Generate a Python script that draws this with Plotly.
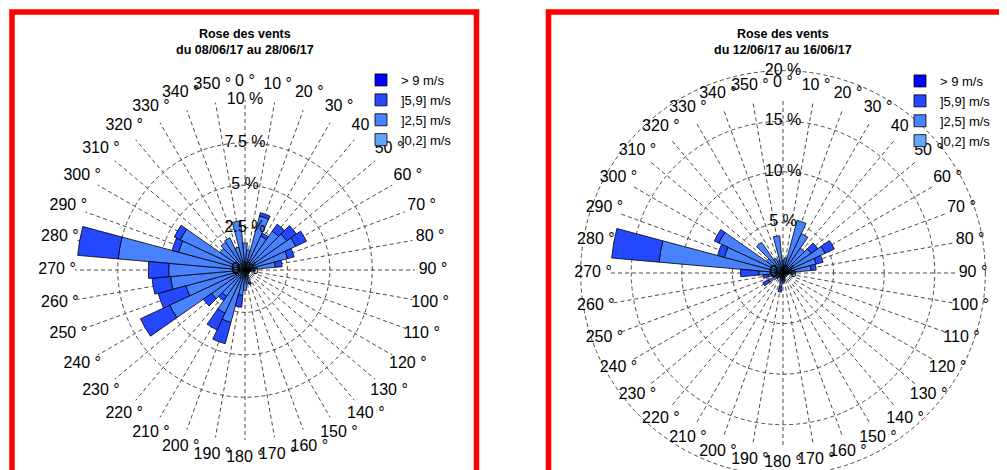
import plotly.graph_objects as go

# ---------------- data ----------------
directions = list(range(0, 360, 10))
dir_labels = [f"{d} °" for d in directions]
classes = ["]0,2] m/s", "]2,5] m/s", "]5,9] m/s", "> 9 m/s"]
class_colors = ["#64A6FF", "#4882FF", "#2448FF", "#0000FF"]

# chart 1 : 08/06/17 - 28/06/17  (% of time, per 10° sector)
left_c1 = [0.5, 0.4, 0.6, 0.5, 0.5, 0.5, 0.5, 0.5, 0.4, 0.3, 0.2, 0.2,
           0.2, 0.2, 0.2, 0.2, 0.4, 0.3, 0.4, 0.4, 0.5, 0.5, 0.4, 0.5,
           0.6, 0.6, 0.6, 0.6, 0.7, 0.5, 0.5, 0.4, 0.4, 0.4, 0.4, 0.5]
left_c2 = [1.1, 0.8, 2.7, 1.7, 2.3, 2.5, 2.8, 2.1, 1.4, 0.3, 0.2, 0.1,
           0.1, 0.1, 0.1, 0.2, 0.4, 0.5, 0.8, 1.1, 2.7, 2.3, 1.5, 1.9,
           4.3, 3.0, 3.8, 3.9, 6.8, 3.55, 3.7, 1.4, 1.6, 1.7, 1.0, 2.4]
left_c3 = [0, 0, 0.2, 0.2, 0.5, 0.7, 0.7, 0.4, 0.4, 0, 0, 0,
           0, 0, 0, 0, 0.1, 0, 0, 0.7, 1.3, 1.1, 0.3, 0.6,
           1.9, 1.7, 1.1, 1.2, 2.4, 0.4, 0.4, 0, 0, 0, 0, 0]
left_c4 = [0] * 36

# chart 2 : 12/06/17 - 16/06/17
right_c1 = [0.5, 0.5, 0.7, 0.6, 0.5, 0.5, 0.6, 0.5, 0.5, 0.4, 0.3, 0.2,
            0.2, 0.2, 0.2, 0.2, 0.3, 0.3, 0.4, 0.4, 0.3, 0.3, 0.3, 0.3,
            0.4, 0.3, 0.4, 0.6, 0.8, 0.6, 0.6, 0.4, 0.5, 0.4, 0.4, 0.5]
right_c2 = [0.8, 1.0, 4.7, 3.7, 2.5, 2.9, 4.0, 2.9, 2.3, 0.8, 0.3, 0.2,
            0.1, 0.1, 0.1, 0.2, 0.3, 0.5, 0.6, 1.0, 0.5, 0.3, 0.3, 0.5,
            1.2, 0.5, 1.1, 1.8, 11.5, 5.4, 6.4, 1.6, 3.2, 1.2, 0.9, 3.2]
right_c3 = [0, 0, 0, 0, 0, 0.8, 1.0, 0.7, 0.5, 0, 0, 0,
            0, 0, 0, 0, 0, 0, 0, 0.5, 0, 0, 0, 0,
            0.6, 0, 0.5, 1.8, 4.7, 0.7, 0.5, 0, 0, 0, 0, 0]
right_c4 = [0] * 36

left_rticks = [0, 2.5, 5, 7.5, 10]
left_rlabels = ["0 %", "2.5 %", "5 %", "7.5 %", "10 %"]
right_rticks = [0, 5, 10, 15]
right_rlabels = ["0 %", "5 %", "10 %", "15 %"]
right_outer = [20]
right_outer_label = ["20 %"]

titles = ["<b>Rose des vents</b><br><b>du 08/06/17 au 28/06/17</b>",
          "<b>Rose des vents</b><br><b>du 12/06/17 au 16/06/17</b>"]

# ---------------- layout geometry (viewport pixels) ----------------
W, H = 1007, 470
OFF = 8          # page body margin of the browser
FONT = "Arial, Liberation Sans, sans-serif"
GRID = "#4a4a4a"

# chart geometry: centre, radius of angular grid, radial max
L_CX, L_CY, L_R, L_MAX = 245, 270, 170, 10.02
R_CX, R_CY, R_R, R_MAX = 783, 273, 174, 17.2
L_LABEL_PX, R_LABEL_PX = 188, 190       # radius where direction labels sit
L_OV_MAX, R_OV_MAX = 12.0, 20.1         # overlay polar ranges


def px(vx):
    return (vx - OFF) / W


def py(vy):
    return 1 - (vy - OFF) / H


def dom(cx, cy, r):
    return dict(x=[px(cx - r), px(cx + r)], y=[py(cy + r), py(cy - r)])


fig = go.Figure()

series_left = [left_c1, left_c2, left_c3, left_c4]
series_right = [right_c1, right_c2, right_c3, right_c4]

for sub, series, leg in [("polar", series_left, "legend"),
                         ("polar2", series_right, "legend2")]:
    for name, col, vals in zip(classes, class_colors, series):
        fig.add_trace(go.Barpolar(
            r=vals, theta=directions, width=10, name=name,
            marker=dict(color=col, line=dict(color="black", width=0.8)),
            subplot=sub, legend=leg, hoverinfo="skip"))

txt = dict(family=FONT, size=16, color="black")

# radial tick labels along the 0° line
fig.add_trace(go.Scatterpolar(
    r=left_rticks, theta=[0] * len(left_rticks), text=left_rlabels,
    mode="text", textfont=txt, subplot="polar", showlegend=False,
    hoverinfo="skip", cliponaxis=False))
fig.add_trace(go.Scatterpolar(
    r=right_rticks, theta=[0] * len(right_rticks), text=right_rlabels,
    mode="text", textfont=txt, subplot="polar2", showlegend=False,
    hoverinfo="skip", cliponaxis=False))

# direction labels, centred on a circle just outside the grid (overlay polars)
l_scale = L_MAX / L_R
r_scale = R_MAX / R_R
fig.add_trace(go.Scatterpolar(
    r=[L_LABEL_PX * l_scale] * len(directions), theta=directions,
    text=dir_labels, mode="text", textfont=txt, subplot="polar3",
    showlegend=False, hoverinfo="skip", cliponaxis=False))
fig.add_trace(go.Scatterpolar(
    r=[R_LABEL_PX * r_scale] * len(directions), theta=directions,
    text=dir_labels, mode="text", textfont=txt, subplot="polar4",
    showlegend=False, hoverinfo="skip", cliponaxis=False))
fig.add_trace(go.Scatterpolar(
    r=right_outer, theta=[0], text=right_outer_label, mode="text",
    textfont=txt, subplot="polar4", showlegend=False, hoverinfo="skip",
    cliponaxis=False))


def polar_layout(domain, rmax, rticks):
    return dict(
        domain=domain, bgcolor="rgba(0,0,0,0)", barmode="stack", bargap=0,
        angularaxis=dict(rotation=90, direction="clockwise", tickmode="array",
                         tickvals=directions, showticklabels=False,
                         showline=False, ticks="", showgrid=True,
                         gridcolor=GRID, gridwidth=1, griddash="4px,3px",
                         layer="above traces"),
        radialaxis=dict(range=[0, rmax], tickmode="array", tickvals=rticks,
                        showticklabels=False, showline=False, ticks="",
                        showgrid=True, gridcolor=GRID, gridwidth=1,
                        griddash="4px,3px", layer="above traces"))


def overlay_layout(domain, rmax, rticks):
    return dict(
        domain=domain, bgcolor="rgba(0,0,0,0)",
        angularaxis=dict(rotation=90, direction="clockwise", showgrid=False,
                         showticklabels=False, showline=False, ticks=""),
        radialaxis=dict(range=[0, rmax], tickmode="array", tickvals=rticks,
                        showticklabels=False, showline=False, ticks="",
                        showgrid=len(rticks) > 0, gridcolor=GRID, gridwidth=1,
                        griddash="4px,3px"))


legend_common = dict(xanchor="left", yanchor="top", traceorder="reversed",
                     bgcolor="rgba(0,0,0,0)",
                     font=dict(family=FONT, size=13, color="black"),
                     tracegroupgap=0, itemclick=False, itemdoubleclick=False)

fig.update_layout(
    width=W, height=H, margin=dict(l=0, r=0, t=0, b=0),
    paper_bgcolor="white", plot_bgcolor="white",
    polar=polar_layout(dom(L_CX, L_CY, L_R), L_MAX, [2.5, 5, 7.5, 10]),
    polar2=polar_layout(dom(R_CX, R_CY, R_R), R_MAX, [5, 10, 15]),
    polar3=overlay_layout(dom(L_CX, L_CY, L_OV_MAX / l_scale), L_OV_MAX, []),
    polar4=overlay_layout(dom(R_CX, R_CY, R_OV_MAX / r_scale), R_OV_MAX,
                          right_outer),
    legend=dict(x=px(361), y=py(65), **legend_common),
    legend2=dict(x=px(900), y=py(66), **legend_common),
    showlegend=True,
    shapes=[
        dict(type="rect", xref="paper", yref="paper", x0=px(12), x1=px(476.5),
             y0=-0.2, y1=py(12), line=dict(color="#FF0000", width=5.5)),
        dict(type="rect", xref="paper", yref="paper", x0=px(548.5), x1=1.05,
             y0=-0.2, y1=py(12), line=dict(color="#FF0000", width=5.5)),
    ],
    annotations=[
        dict(text=titles[0], x=px(245), y=py(42), xref="paper", yref="paper",
             showarrow=False, font=dict(family=FONT, size=12.5, color="black"),
             xanchor="center", yanchor="middle"),
        dict(text=titles[1], x=px(783), y=py(42), xref="paper", yref="paper",
             showarrow=False, font=dict(family=FONT, size=12.5, color="black"),
             xanchor="center", yanchor="middle"),
    ],
)

fig.write_html("out.html")
